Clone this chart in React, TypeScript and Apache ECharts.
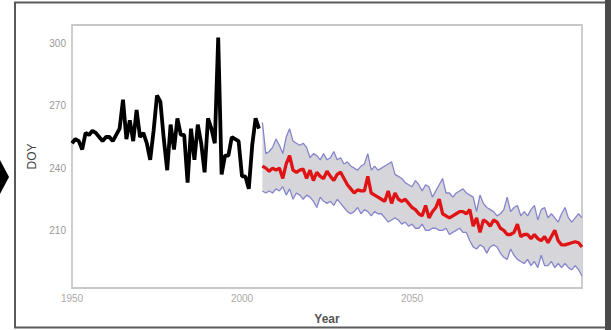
import React, { useEffect, useRef } from "react";
import * as echarts from "echarts";

const HIST_START = 1950;
const PROJ_START = 2006;

const observedDOY = [
  252, 254, 253, 249, 257, 256, 258, 257, 255, 253,
  255, 255, 253, 256, 259, 273, 254, 263, 253, 268,
  255, 257, 252, 244, 258, 275, 272, 254, 239, 261,
  249, 264, 256, 256, 233, 259, 244, 261, 252, 238,
  264, 259, 252, 303, 237, 246, 246, 255, 254, 253,
  236, 236, 230, 251, 264, 259,
];

const projMean = [
  241, 240, 238.5, 240, 239, 240, 235, 242, 246, 239,
  238, 239, 239.5, 235, 239, 234, 238, 236, 235, 238.5,
  236, 234, 237, 238, 235, 232, 230, 228, 229.5, 229,
  229, 236, 228, 227, 226, 225, 224, 229, 223, 228,
  225, 224, 225, 223, 221, 220, 218, 217, 222, 216,
  219, 221, 225, 218, 217, 216, 217, 218, 219, 219,
  218, 220, 212, 216, 209, 215, 214, 212, 215, 214,
  211, 210, 208, 208, 209, 213, 207, 208, 208, 206,
  208, 206, 205, 207, 204, 207, 210, 205, 203, 203,
  203.5, 204, 204.5, 204, 202,
];

const projUpper = [
  262, 247, 248, 250, 254, 251, 247, 255, 259, 253,
  252, 251, 252, 250, 245, 247, 246, 244, 247, 244,
  245, 248, 244, 245, 242, 243, 241, 240, 239, 241,
  242, 247, 239, 241, 239, 240, 241, 242, 243, 237,
  236, 235, 233, 232, 231, 234, 232, 229, 232, 231,
  226, 229, 232, 235, 228, 228, 226, 228, 229, 230,
  228, 227, 226, 219, 227, 223, 221, 220, 219, 217,
  218, 220, 226, 219, 221, 222, 217, 219, 217, 220,
  222, 215, 220, 221, 216, 218, 216, 214, 218, 221,
  216, 214, 216, 218, 216,
];

const projLower = [
  229, 228, 229, 228, 230, 229, 231, 227, 230, 225,
  228, 227, 225, 227, 226, 224, 221, 226, 224, 223,
  224, 222, 225, 223, 221, 219, 218, 219, 221, 218,
  220, 219, 217, 219, 218, 218, 216, 214, 215, 216,
  215, 213, 214, 212, 213, 211, 211, 213, 210, 210,
  211, 211, 210, 210, 211, 208, 209, 210, 211, 209,
  209, 205, 202, 201, 203, 202, 199, 202, 203, 202,
  199, 197, 196, 201, 198, 196, 195, 194, 196, 193,
  195, 192, 198, 193, 193, 195, 192, 194, 192, 194,
  192, 191, 193, 191, 188,
];

const xTicks = [1950, 2000, 2050];
const yTicks = [210, 240, 270, 300];

export default function App() {
  const ref = useRef<HTMLDivElement>(null);

  useEffect(() => {
    if (!ref.current) return;
    const chart = echarts.init(ref.current, undefined, { renderer: "svg" });

    const obs = observedDOY.map((v, i) => [HIST_START + i, v]);
    const mean = projMean.map((v, i) => [PROJ_START + i, v]);
    const upper = projUpper.map((v, i) => [PROJ_START + i, v]);
    const lower = projLower.map((v, i) => [PROJ_START + i, v]);
    const bandData = projUpper.map((v, i) => [PROJ_START + i, v, projLower[i]]);

    chart.setOption({
      animation: false,
      backgroundColor: "#ffffff",
      grid: {
        left: 72,
        right: 29,
        top: 25,
        bottom: 40,
        show: true,
        borderColor: "#c8c8c8",
        borderWidth: 1.8,
      },
      xAxis: {
        type: "value",
        min: 1950,
        max: 2100,
        interval: 50,
        name: "Year",
        nameLocation: "middle",
        nameGap: 25,
        nameTextStyle: { color: "#555", fontSize: 12, fontWeight: "bold", fontFamily: "Liberation Sans" },
        axisLine: { show: false },
        axisTick: { show: false },
        splitLine: { show: false },
        axisLabel: {
          customValues: xTicks,
          color: "#aaa",
          fontSize: 10,
          margin: 5,
          fontFamily: "Liberation Sans",
          formatter: (v: number) => String(v),
        },
      },
      yAxis: {
        type: "value",
        min: 182.2,
        max: 309,
        name: "DOY",
        nameLocation: "middle",
        nameGap: 27,
        nameRotate: 90,
        nameTextStyle: { color: "#444", fontSize: 12, fontFamily: "Liberation Sans" },
        axisLine: { show: false },
        axisTick: { show: false },
        splitLine: { show: false },
        axisLabel: {
          customValues: yTicks,
          color: "#999",
          fontSize: 10,
          margin: 6,
          fontFamily: "Liberation Sans",
          formatter: (v: number) => String(v),
        },
      },
      series: [
        {
          type: "custom",
          data: bandData,
          silent: true,
          encode: { x: 0, y: [1, 2] },
          renderItem: (params: any, api: any) => {
            if (params.dataIndex !== 0) return null;
            const top = bandData.map((d) => api.coord([d[0], d[1]]));
            const bot = bandData.map((d) => api.coord([d[0], d[2]])).reverse();
            return {
              type: "polygon",
              shape: { points: top.concat(bot) },
              style: { fill: "#d6d5da" },
              silent: true,
            };
          },
        },
        {
          type: "line",
          data: upper,
          symbol: "none",
          lineStyle: { color: "#8585cc", width: 1.3 },
        },
        {
          type: "line",
          data: lower,
          symbol: "none",
          lineStyle: { color: "#8585cc", width: 1.3 },
        },
        {
          type: "line",
          data: mean,
          symbol: "none",
          lineStyle: { color: "#e01414", width: 3.3 },
        },
        {
          type: "line",
          data: obs,
          symbol: "none",
          lineStyle: { color: "#000", width: 3.8 },
        },
      ],
      graphic: [
        {
          type: "rect",
          shape: { x: 15, y: 2.5, width: 591, height: 325 },
          style: { fill: "none", stroke: "#5a5a5a", lineWidth: 2 },
          silent: true,
        },
        {
          type: "rect",
          shape: { x: 605, y: 0, width: 6, height: 330 },
          style: { fill: "#4a4a4a" },
          silent: true,
        },
        {
          type: "polygon",
          shape: { points: [[0, 160], [9, 177], [0, 194]] },
          style: { fill: "#000" },
          silent: true,
        },
      ],
    });

    return () => chart.dispose();
  }, []);

  return (
    <div
      ref={ref}
      style={{ position: "fixed", left: 0, top: 0, width: 611, height: 330 }}
    />
  );
}
